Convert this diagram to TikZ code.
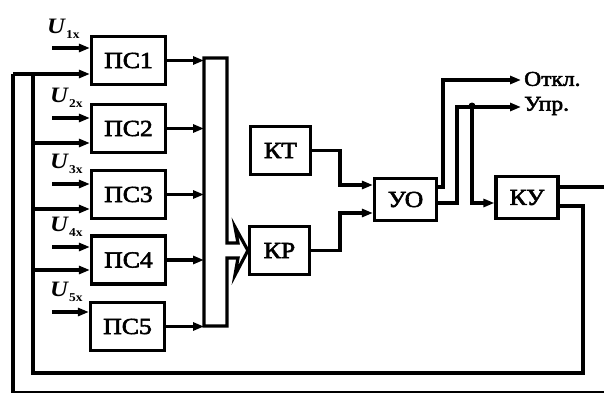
\documentclass[tikz,border=0pt]{standalone}
\usepackage{fontspec}
\setmainfont{Liberation Serif}[FakeStretch=1.12]
\newfontfamily\heavyfont{Liberation Serif}[FakeStretch=1.12, FakeBold=2.5]
\usetikzlibrary{arrows.meta}
\tikzset{
  ln/.style={line width=3.2pt, line join=miter},
  arr/.style={ln, -{Triangle[length=11pt,width=8pt]}},
  blk/.style={draw, line width=3.2pt, minimum width=74pt, minimum height=48pt, inner sep=0pt, font=\heavyfont\fontsize{23}{26}\selectfont},
  sblk/.style={blk, minimum width=60pt, minimum height=48pt},
  tblk/.style={blk, minimum width=62pt, minimum height=42pt},
  ulab/.style={anchor=base west, inner sep=0pt, font=\fontsize{22}{24}\selectfont},
  olab/.style={anchor=west, inner sep=0pt, font=\heavyfont\fontsize{21}{24}\selectfont},
  dot/.style={circle, fill, inner sep=0pt, minimum size=7pt}
}
\newcommand{\ulabel}[1]{\textbf{\textit{U}}\raisebox{-5pt}{\fontsize{12}{13}\selectfont\textbf{#1х}}}
\begin{document}
\begin{tikzpicture}[x=1pt,y=-1pt]
\useasboundingbox (0,0) rectangle (604,392);
% PS blocks
\node[blk] (ps1) at (128.5,60.5) {ПС1};
\node[blk] (ps2) at (128.5,128.5) {ПС2};
\node[blk] (ps3) at (128.5,194.5) {ПС3};
\node[blk] (ps4) at (128.5,260) {ПС4};
\node[blk] (ps5) at (127.5,326.5) {ПС5};
% other blocks
\node[sblk] (kt) at (280.5,150.5) {КТ};
\node[sblk] (kr) at (279.5,250.5) {КР};
\node[tblk] (yo) at (405.5,199.5) {УО};
\node[tblk] (ky) at (527,197.5) {КУ};
% input labels and arrows
\coordinate (u1) at (52,48);
\coordinate (u2) at (52,118);
\coordinate (u3) at (52,184);
\coordinate (u4) at (52,247);
\coordinate (u5) at (52,312);
\node[ulab] (l1) at (47,33) {\ulabel{1}};
\node[ulab] (l2) at (50,102) {\ulabel{2}};
\node[ulab] (l3) at (50,168) {\ulabel{3}};
\node[ulab] (l4) at (50,231) {\ulabel{4}};
\node[ulab] (l5) at (50,296) {\ulabel{5}};
\draw[arr] (u1) -- (u1 -| ps1.west);
\draw[arr] (u2) -- (u2 -| ps2.west);
\draw[arr] (u3) -- (u3 -| ps3.west);
\draw[arr] (u4) -- (u4 -| ps4.west);
\draw[arr] (u5) -- (u5 -| ps5.west);
% bus
\draw[arr] (ps1.east) -- (ps1.east -| 204,0);
\draw[arr] (ps2.east) -- (ps2.east -| 204,0);
\draw[arr] (ps3.east) -- (ps3.east -| 204,0);
\draw[arr] (ps4.east) -- (ps4.east -| 204,0);
\draw[arr] (ps5.east) -- (ps5.east -| 204,0);
\draw[ln] (204,326) -- (204,58) -- (227,58) -- (227,243) -- (238,243) -- (235,227) -- (kr.west) -- (235,275) -- (238,258) -- (227,258) -- (227,326) -- cycle;
% KT, KR to YO
\draw[arr] (kt.east) -| (340,185) -- (yo.west |- 0,185);
\draw[arr] (kr.east) -| (340,213) -- (yo.west |- 0,213);
% YO outputs
\coordinate (o1) at (521,80);
\coordinate (o2) at (521,107);
\node[olab] (otkl) at (524,79) {Откл.};
\node[olab] (upr) at (524,106) {Упр.};
\draw[arr] (yo.east |- 0,187) -| (443,80) -- (o1);
\draw[arr] (yo.east |- 0,203) -| (457,107) -- (o2);
\node[dot] (d) at (472,106) {};
\draw[arr] (d.center) |- (ky.west |- 0,203);
% feedback loops
\draw[ln] (ky.east |- 0,187) -- (607,187) -- (607,392.5) -- (13,392.5) -- (13,74);
\draw[arr] (13,74) -- (ps1.west |- 0,74);
\draw[ln] (ky.east |- 0,206) -| (583,373) -- (33,373) -- (33,74);
\draw[arr] (33,143) -- (ps2.west |- 0,143);
\draw[arr] (33,209) -- (ps3.west |- 0,209);
\draw[arr] (33,270) -- (ps4.west |- 0,270);
\end{tikzpicture}
\end{document}
